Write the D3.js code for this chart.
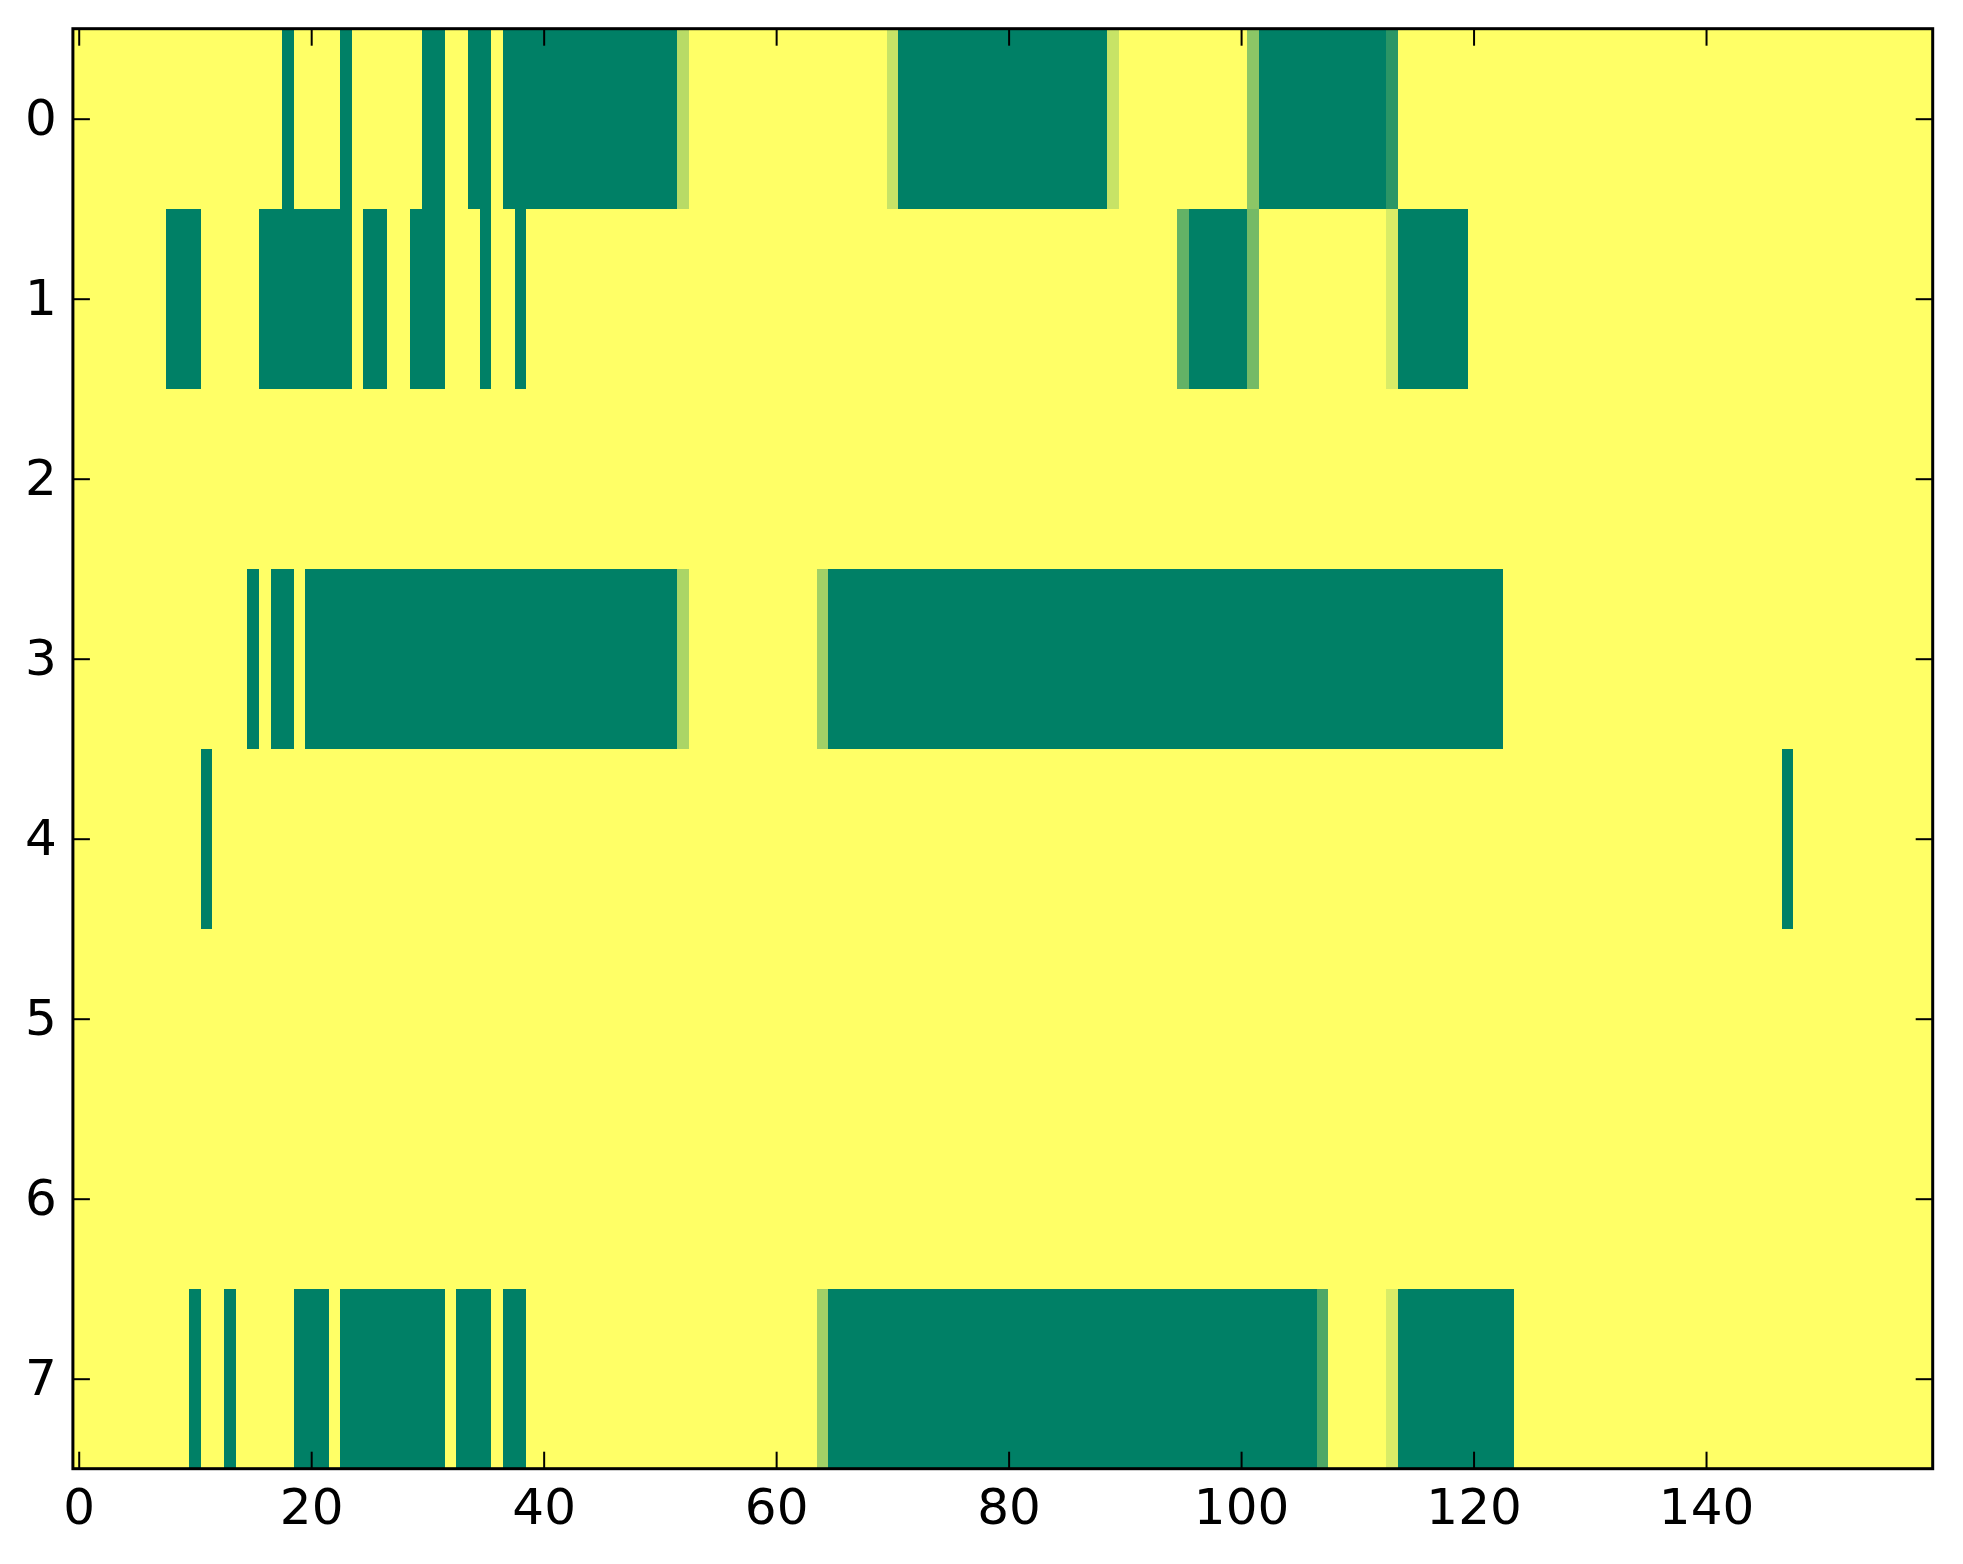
<!DOCTYPE html>
<html lang='en'>
<head>
  <meta charset='utf-8'/>
  <title>Heatmap</title>
  <script src='https://d3js.org/d3.v7.min.js'></script>
  <style>
    body{margin:0;background:#ffffff;}
    svg{display:block;}
    .tick text{font-family:'DejaVu Sans',sans-serif;font-size:50px;fill:#000;}
  </style>
</head>
<body>
<svg id='chart'></svg>
<script>
// Data: runs of [firstColumn, lastColumn, value] per row, everything else is 0
const nCols = 160;
const rowLabels = [0, 1, 2, 3, 4, 5, 6, 7];
const xTicks = [0, 20, 40, 60, 80, 100, 120, 140];

const row0 = [[18,18,1],[23,23,1],[30,31,1],[34,35,1],[37,51,1],[52,52,0.28],
              [70,70,0.22],[71,88,1],[89,89,0.22],[101,101,0.45],[102,112,1],[113,113,0.83]];
const row1 = [[8,10,1],[16,23,1],[25,26,1],[29,31,1],[35,35,1],[38,38,1],
              [95,95,0.61],[96,100,1],[101,101,0.54],[113,113,0.15],[114,119,1]];
const row2 = [];
const row3 = [[15,15,1],[17,18,1],[20,51,1],[52,52,0.33],[64,64,0.37],[65,122,1]];
const row4 = [[11,11,1],[147,147,1]];
const row5 = [];
const row6 = [];
const row7 = [[10,10,1],[13,13,1],[19,21,1],[23,31,1],[33,35,1],[37,38,1],
              [64,64,0.37],[65,106,1],[107,107,0.69],[113,113,0.15],[114,123,1]];
const rows = [row0, row1, row2, row3, row4, row5, row6, row7];

// Settings
const W = 1963, H = 1564;
const plot = {left: 72.9, right: 1932.7, top: 28.7, bottom: 1468.7};

const svg = d3.select('#chart').attr('width', W).attr('height', H);

const x = d3.scaleLinear().domain([-0.5, nCols - 0.5]).range([plot.left, plot.right]);
const y = d3.scaleLinear().domain([-0.5, rowLabels.length - 0.5]).range([plot.top, plot.bottom]);
const color = d3.scaleLinear().domain([0, 1]).range(['#ffff66', '#008066']);

// expand runs into a full grid of cells
const cells = [];
rows.forEach((runs, r) => {
  const vals = new Array(nCols).fill(0);
  runs.forEach(([a, b, v]) => { for (let c = a; c <= b; c++) vals[c] = v; });
  vals.forEach((v, c) => cells.push({r, c, v}));
});

svg.append('g')
  .attr('shape-rendering', 'crispEdges')
  .selectAll('rect')
  .data(cells)
  .join('rect')
    .attr('x', d => x(d.c - 0.5))
    .attr('y', d => y(d.r - 0.5))
    .attr('width', d => x(d.c + 0.5) - x(d.c - 0.5) + 0.4)
    .attr('height', d => y(d.r + 0.5) - y(d.r - 0.5) + 0.4)
    .attr('fill', d => color(d.v));

// Axes, ticks pointing inward on every side
const tick = 17;
const styleAxis = g => {
  g.select('.domain').remove();
  g.selectAll('.tick line').attr('stroke', '#000').attr('stroke-width', 2);
};

svg.append('g')
  .attr('transform', `translate(0,${plot.bottom})`)
  .call(d3.axisBottom(x).tickValues(xTicks).tickSize(-tick).tickPadding(20).tickFormat(d3.format('d')))
  .call(styleAxis);

svg.append('g')
  .attr('transform', `translate(0,${plot.top})`)
  .call(d3.axisTop(x).tickValues(xTicks).tickSize(-tick).tickFormat(''))
  .call(styleAxis);

svg.append('g')
  .attr('transform', `translate(${plot.left},0)`)
  .call(d3.axisLeft(y).tickValues(rowLabels).tickSize(-tick).tickPadding(16).tickFormat(d3.format('d')))
  .call(styleAxis);

svg.append('g')
  .attr('transform', `translate(${plot.right},0)`)
  .call(d3.axisRight(y).tickValues(rowLabels).tickSize(-tick).tickFormat(''))
  .call(styleAxis);

svg.selectAll('.tick text').attr('fill', '#000');

// Frame
svg.append('rect')
  .attr('x', plot.left).attr('y', plot.top)
  .attr('width', plot.right - plot.left).attr('height', plot.bottom - plot.top)
  .attr('fill', 'none').attr('stroke', '#000').attr('stroke-width', 3);
</script>
</body>
</html>
